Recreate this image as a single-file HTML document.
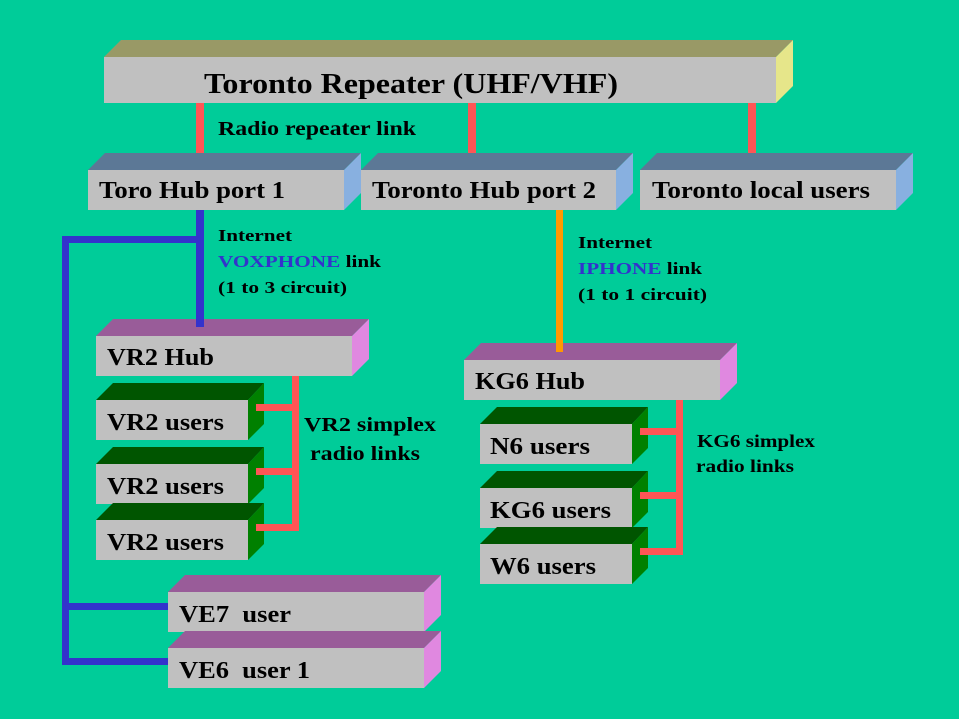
<!DOCTYPE html>
<html><head><meta charset="utf-8"><style>html,body{margin:0;padding:0;background:#00CC99}svg{display:block}text{font-family:"Liberation Serif",serif;font-weight:bold;fill:#000}</style></head><body>
<svg width="959" height="719" viewBox="0 0 959 719" xmlns="http://www.w3.org/2000/svg">
<rect width="959" height="719" fill="#00CC99"/>
<g fill="#FF5555">
<rect x="196" y="103" width="8" height="50"/>
<rect x="468" y="103" width="8" height="50"/>
<rect x="748" y="103" width="8" height="50"/>
<rect x="292" y="376" width="7" height="152"/>
<rect x="676" y="400" width="7" height="152"/>
</g>
<g fill="#3333CC">
<rect x="196" y="210" width="8" height="117"/>
<rect x="62" y="236" width="142" height="7"/>
<rect x="62" y="236" width="7" height="429"/>
<rect x="62" y="603" width="106" height="7"/>
<rect x="62" y="658" width="106" height="7"/>
</g>
<rect x="556" y="210" width="7" height="142" fill="#FF9900"/>

<polygon points="104,57 121,40 793,40 776,57" fill="#999966"/>
<polygon points="776,57 793,40 793,86 776,103" fill="#E6E68A"/>
<rect x="104" y="57" width="672" height="46" fill="#C0C0C0"/>
<polygon points="88,170 105,153 361,153 344,170" fill="#5C7896"/>
<polygon points="344,170 361,153 361,193 344,210" fill="#88B0E0"/>
<rect x="88" y="170" width="256" height="40" fill="#C0C0C0"/>
<polygon points="361,170 378,153 633,153 616,170" fill="#5C7896"/>
<polygon points="616,170 633,153 633,193 616,210" fill="#88B0E0"/>
<rect x="361" y="170" width="255" height="40" fill="#C0C0C0"/>
<polygon points="640,170 657,153 913,153 896,170" fill="#5C7896"/>
<polygon points="896,170 913,153 913,193 896,210" fill="#88B0E0"/>
<rect x="640" y="170" width="256" height="40" fill="#C0C0C0"/>
<polygon points="96,336 113,319 369,319 352,336" fill="#995C99"/>
<polygon points="352,336 369,319 369,359 352,376" fill="#E088E0"/>
<rect x="96" y="336" width="256" height="40" fill="#C0C0C0"/>
<rect x="196" y="319" width="8" height="8" fill="#3333CC"/>
<polygon points="464,360 481,343 737,343 720,360" fill="#995C99"/>
<polygon points="720,360 737,343 737,383 720,400" fill="#E088E0"/>
<rect x="464" y="360" width="256" height="40" fill="#C0C0C0"/>
<rect x="556" y="343" width="7" height="9" fill="#FF9900"/>
<polygon points="96,400 113,383 264,383 248,400" fill="#005500"/>
<polygon points="248,400 264,383 264,424 248,440" fill="#008000"/>
<rect x="96" y="400" width="152" height="40" fill="#C0C0C0"/>
<polygon points="96,464 113,447 264,447 248,464" fill="#005500"/>
<polygon points="248,464 264,447 264,488 248,504" fill="#008000"/>
<rect x="96" y="464" width="152" height="40" fill="#C0C0C0"/>
<polygon points="96,520 113,503 264,503 248,520" fill="#005500"/>
<polygon points="248,520 264,503 264,544 248,560" fill="#008000"/>
<rect x="96" y="520" width="152" height="40" fill="#C0C0C0"/>
<rect x="256" y="404" width="43" height="7" fill="#FF5555"/>
<rect x="256" y="468" width="43" height="7" fill="#FF5555"/>
<rect x="256" y="524" width="43" height="7" fill="#FF5555"/>
<polygon points="480,424 497,407 648,407 632,424" fill="#005500"/>
<polygon points="632,424 648,407 648,448 632,464" fill="#008000"/>
<rect x="480" y="424" width="152" height="40" fill="#C0C0C0"/>
<polygon points="480,488 497,471 648,471 632,488" fill="#005500"/>
<polygon points="632,488 648,471 648,512 632,528" fill="#008000"/>
<rect x="480" y="488" width="152" height="40" fill="#C0C0C0"/>
<polygon points="480,544 497,527 648,527 632,544" fill="#005500"/>
<polygon points="632,544 648,527 648,568 632,584" fill="#008000"/>
<rect x="480" y="544" width="152" height="40" fill="#C0C0C0"/>
<rect x="640" y="428" width="43" height="7" fill="#FF5555"/>
<rect x="640" y="492" width="43" height="7" fill="#FF5555"/>
<rect x="640" y="548" width="43" height="7" fill="#FF5555"/>
<polygon points="168,592 185,575 441,575 424,592" fill="#995C99"/>
<polygon points="424,592 441,575 441,615 424,632" fill="#E088E0"/>
<rect x="168" y="592" width="256" height="40" fill="#C0C0C0"/>
<polygon points="168,648 185,631 441,631 424,648" fill="#995C99"/>
<polygon points="424,648 441,631 441,671 424,688" fill="#E088E0"/>
<rect x="168" y="648" width="256" height="40" fill="#C0C0C0"/>

<g lengthAdjust="spacingAndGlyphs">
<text x="204" y="93" font-size="29" textLength="414" lengthAdjust="spacingAndGlyphs">Toronto Repeater (UHF/VHF)</text>
<text x="218" y="135" font-size="20" textLength="198" lengthAdjust="spacingAndGlyphs">Radio repeater link</text>
<text x="99" y="198" font-size="24" textLength="186" lengthAdjust="spacingAndGlyphs">Toro Hub port 1</text>
<text x="372" y="198" font-size="24" textLength="224" lengthAdjust="spacingAndGlyphs">Toronto Hub port 2</text>
<text x="652" y="198" font-size="24" textLength="218" lengthAdjust="spacingAndGlyphs">Toronto local users</text>
<text x="218" y="241" font-size="17" textLength="74" lengthAdjust="spacingAndGlyphs">Internet</text>
<text x="218" y="267" font-size="17" textLength="163" lengthAdjust="spacingAndGlyphs"><tspan fill="#3333CC">VOXPHONE</tspan> link</text>
<text x="218" y="293" font-size="17" textLength="129" lengthAdjust="spacingAndGlyphs">(1 to 3 circuit)</text>
<text x="578" y="248" font-size="17" textLength="74" lengthAdjust="spacingAndGlyphs">Internet</text>
<text x="578" y="274" font-size="17" textLength="124" lengthAdjust="spacingAndGlyphs"><tspan fill="#3333CC">IPHONE</tspan> link</text>
<text x="578" y="300" font-size="17" textLength="129" lengthAdjust="spacingAndGlyphs">(1 to 1 circuit)</text>
<text x="107" y="365" font-size="24" textLength="107" lengthAdjust="spacingAndGlyphs">VR2 Hub</text>
<text x="475" y="389" font-size="24" textLength="110" lengthAdjust="spacingAndGlyphs">KG6 Hub</text>
<text x="107" y="430" font-size="24" textLength="117" lengthAdjust="spacingAndGlyphs">VR2 users</text>
<text x="107" y="494" font-size="24" textLength="117" lengthAdjust="spacingAndGlyphs">VR2 users</text>
<text x="107" y="550" font-size="24" textLength="117" lengthAdjust="spacingAndGlyphs">VR2 users</text>
<text x="304" y="431" font-size="20" textLength="132" lengthAdjust="spacingAndGlyphs">VR2 simplex</text>
<text x="310" y="460" font-size="20" textLength="110" lengthAdjust="spacingAndGlyphs">radio links</text>
<text x="490" y="454" font-size="24" textLength="100" lengthAdjust="spacingAndGlyphs">N6 users</text>
<text x="490" y="518" font-size="24" textLength="121" lengthAdjust="spacingAndGlyphs">KG6 users</text>
<text x="490" y="574" font-size="24" textLength="106" lengthAdjust="spacingAndGlyphs">W6 users</text>
<text x="697" y="447" font-size="18" textLength="118" lengthAdjust="spacingAndGlyphs">KG6 simplex</text>
<text x="696" y="472" font-size="18" textLength="98" lengthAdjust="spacingAndGlyphs">radio links</text>
<text x="179" y="622" font-size="24" textLength="112" lengthAdjust="spacingAndGlyphs">VE7&#160; user</text>
<text x="179" y="678" font-size="24" textLength="131" lengthAdjust="spacingAndGlyphs">VE6&#160; user 1</text>
</g>
</svg>
</body></html>
